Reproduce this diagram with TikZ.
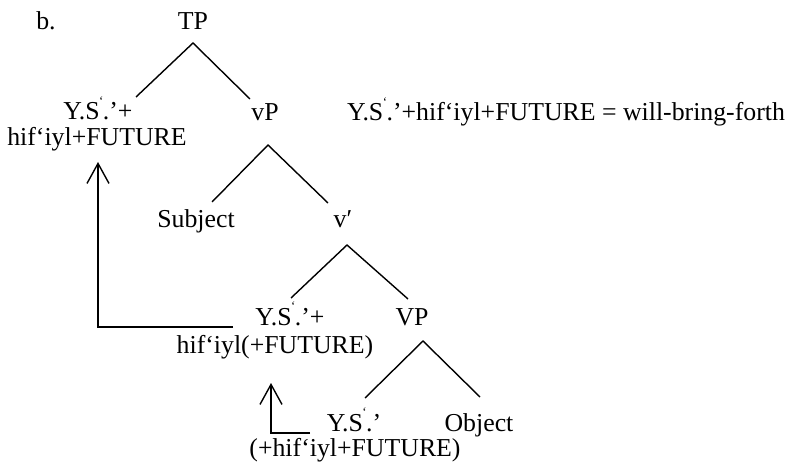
\documentclass[tikz,border=0pt]{standalone}
\usepackage{fontspec}
\setmainfont{Liberation Serif}
\usetikzlibrary{arrows.meta}
\newcommand\Smk{S\kern-0.5pt\raisebox{.55em}{\fontsize{13}{13}\selectfont\textquoteleft}\kern-0.5pt}
\begin{document}
\begin{tikzpicture}[x=1pt,y=1pt,
  lbl/.style={inner sep=0pt,anchor=base,font=\fontsize{25.8}{30}\selectfont},
  branch/.style={line width=1.4pt},
  mv/.style={line width=1.4pt,-{Straight Barb[length=20pt,width=22pt,line width=1.4pt]}}]
\useasboundingbox (0,0) rectangle (797,466);
% text nodes (y = 466 - image y)
\node[lbl] (b) at (46,436) {b.};
\node[lbl] (TP) at (193,436) {TP};
\node[lbl] (ys1) at (98,346) {Y.\Smk.’+};
\node[lbl] (hf1) at (97,320) {hif‘iyl+FUTURE};
\node[lbl] (vP) at (265,345) {vP};
\node[lbl,anchor=base west] (gl) at (347,345) {Y.\Smk.’+hif‘iyl+FUTURE = will-bring-forth};
\node[lbl] (subj) at (196,238) {Subject};
\node[lbl] (vbar) at (343,238) {v′};
\node[lbl] (ys2) at (290,141) {Y.\Smk.’+};
\node[lbl] (VP) at (412,140) {VP};
\node[lbl] (hf2) at (275,113) {hif‘iyl(+FUTURE)};
\node[lbl] (ys3) at (354,35) {Y.\Smk.’};
\node[lbl] (obj) at (479,35) {Object};
\node[lbl] (hf3) at (355,10) {(+hif‘iyl+FUTURE)};
% branch points
\coordinate (tpA) at (193,423); \coordinate (tpL) at (136,369); \coordinate (tpR) at (250,367);
\coordinate (vpA) at (268,321); \coordinate (vpL) at (212,264); \coordinate (vpR) at (328,263);
\coordinate (vbA) at (347,221); \coordinate (vbL) at (291,168); \coordinate (vbR) at (408,167);
\coordinate (VPA) at (423,125); \coordinate (VPL) at (365,68);  \coordinate (VPR) at (480,69);
\draw[branch] (tpL) -- (tpA) -- (tpR);
\draw[branch] (vpL) -- (vpA) -- (vpR);
\draw[branch] (vbL) -- (vbA) -- (vbR);
\draw[branch] (VPL) -- (VPA) -- (VPR);
% movement arrows
\coordinate (m1s) at (233,139); \coordinate (m1c) at (98,139); \coordinate (m1t) at (98,304);
\coordinate (m2s) at (310,33);  \coordinate (m2c) at (271,33); \coordinate (m2t) at (271,83);
\draw[mv] (m1s) -- (m1c) -- (m1t);
\draw[mv] (m2s) -- (m2c) -- (m2t);
\end{tikzpicture}
\end{document}
